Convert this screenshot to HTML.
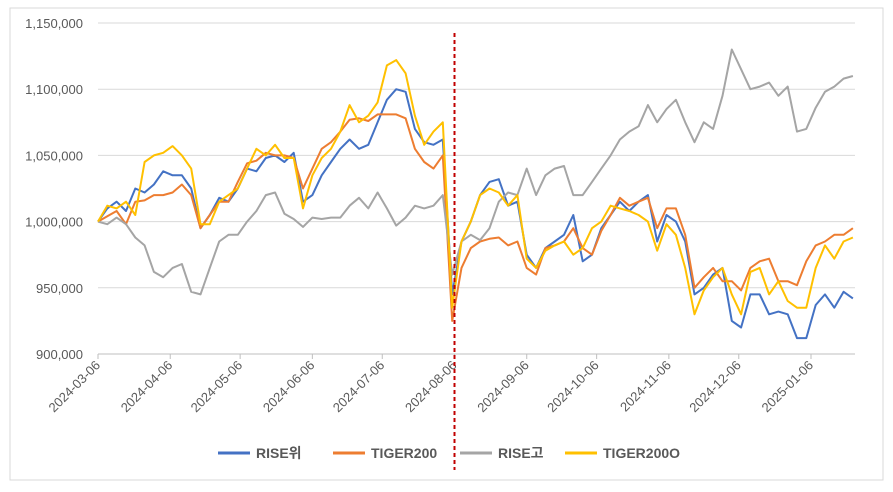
<!DOCTYPE html>
<html><head><meta charset="utf-8"><style>
body{margin:0;background:#fff;}
svg text{font-family:"Liberation Sans","Noto Sans CJK KR",sans-serif;}
</style></head><body>
<svg id="c" width="893" height="487" xmlns="http://www.w3.org/2000/svg">
<rect x="10" y="8" width="873" height="472" fill="#fff" stroke="#d9d9d9"/>
</svg>
<script>
const dayOffsets=[0,4,8,12,16,20,24,28,32,36,40,44,48,52,56,60,64,68,72,76,80,84,88,92,96,100,104,108,112,116,120,124,128,132,136,140,144,148,152,156,160,164,168,172,176,180,184,188,192,196,200,204,208,212,216,220,224,228,232,236,240,244,248,252,256,260,264,268,272,276,280,284,288,292,296,300,304,308,312,316,320,324];
const riseWi=[1000,1010,1015,1008,1025,1022,1028,1038,1035,1035,1025,995,1005,1018,1015,1025,1040,1038,1048,1050,1045,1052,1015,1020,1035,1045,1055,1062,1055,1058,1075,1092,1100,1098,1070,1060,1058,1062,945,985,1000,1020,1030,1032,1012,1015,975,965,980,985,990,1005,970,975,995,1005,1015,1008,1015,1020,985,1005,1000,985,945,950,960,965,925,920,945,945,930,932,930,912,912,937,945,935,947,942];
const tiger200=[1000,1004,1008,998,1015,1016,1020,1020,1022,1028,1020,995,1005,1015,1015,1030,1044,1046,1052,1050,1050,1048,1025,1040,1055,1060,1068,1077,1078,1076,1081,1081,1081,1078,1055,1045,1040,1050,925,965,980,985,987,988,982,985,965,960,980,982,985,995,980,975,993,1005,1018,1012,1015,1018,995,1010,1010,990,950,958,965,955,955,948,965,970,972,955,955,952,970,982,985,990,990,995];
const riseGo=[1000,998,1003,998,988,982,962,958,965,968,947,945,965,985,990,990,1000,1008,1020,1022,1006,1002,996,1003,1002,1003,1003,1012,1018,1010,1022,1010,997,1003,1012,1010,1012,1020,960,985,990,986,995,1015,1022,1020,1040,1020,1035,1040,1042,1020,1020,1030,1040,1050,1062,1068,1072,1088,1075,1085,1092,1075,1060,1075,1070,1095,1130,1115,1100,1102,1105,1095,1102,1068,1070,1086,1098,1102,1108,1110];
const tiger200O=[1000,1012,1010,1015,1005,1045,1050,1052,1057,1050,1040,998,998,1015,1020,1025,1040,1055,1050,1058,1048,1048,1010,1035,1048,1055,1068,1088,1075,1080,1090,1118,1122,1112,1080,1058,1068,1075,935,985,1000,1020,1025,1022,1012,1020,972,965,978,982,985,975,980,995,1000,1012,1010,1008,1005,1000,978,998,990,965,930,948,958,965,945,930,962,965,945,955,940,935,935,965,982,972,985,988];
const yTicks=[900000,950000,1000000,1050000,1100000,1150000];
const xTickDays=[0,31,61,92,122,153,184,214,245,275,306];
const xTickLabels=["2024-03-06","2024-04-06","2024-05-06","2024-06-06","2024-07-06","2024-08-06","2024-09-06","2024-10-06","2024-11-06","2024-12-06","2025-01-06"];
const markerDay=153;
const seriesNames=["RISE위","TIGER200","RISE고","TIGER200O"];
const seriesColors=["#4472c4","#ed7d31","#a5a5a5","#ffc000"];
const seriesData=[riseWi,tiger200,riseGo,tiger200O];

const NS="http://www.w3.org/2000/svg";
const svg=document.getElementById('c');
const X0=98,PXD=713/306,Y0=354,Y1=23;
const xs=d=>X0+d*PXD;
const ys=v=>Y0-(v-900000)/(250000)*(Y0-Y1);
function mk(t,a,p){const e=document.createElementNS(NS,t);for(const k in a)e.setAttribute(k,a[k]);(p||svg).appendChild(e);return e;}

yTicks.forEach(v=>{
  const g=mk('line',{x1:X0,x2:855,y1:ys(v),y2:ys(v),stroke:'#d9d9d9','stroke-width':1});
  
  
  const t=mk('text',{x:83,y:ys(v)+5,'text-anchor':'end','font-size':13,fill:'#595959'});
  t.textContent=v.toLocaleString('en-US');
  
  
});
const ax=mk('line',{x1:X0,x2:855,y1:Y0,y2:Y0,stroke:'#bfbfbf'});


xTickDays.forEach((d,i)=>{
  const x=xs(d);
  const tk=mk('line',{x1:x,x2:x,y1:Y0,y2:Y0+5,stroke:'#bfbfbf'});
  
  
  const t=mk('text',{x:x+3,y:Y0+12,'text-anchor':'end','font-size':13,fill:'#595959',transform:`rotate(-45 ${x+3} ${Y0+12})`});
  t.textContent=xTickLabels[i];
  
  
});
seriesData.forEach((arr,s)=>{
  const pts=arr.map((v,i)=>xs(dayOffsets[i]).toFixed(1)+','+ys(v*1000).toFixed(1)).join(' ');
  const p=mk('polyline',{points:pts,fill:'none',stroke:seriesColors[s],'stroke-width':2,'stroke-linejoin':'round'});
  
  
});
const mx=xs(markerDay);
const ml=mk('line',{x1:mx,x2:mx,y1:33,y2:470,stroke:'#c00000','stroke-width':2,'stroke-dasharray':'4,3'});


const legX=[218,333,460,565];
seriesNames.forEach((n,i)=>{
  const l=mk('line',{x1:legX[i],x2:legX[i]+32,y1:453,y2:453,stroke:seriesColors[i],'stroke-width':3});
  
  
  const t=mk('text',{x:legX[i]+38,y:458,'font-size':14,'font-weight':'bold',fill:'#595959'});
  t.textContent=n;
  
  
});
</script>
</body></html>
